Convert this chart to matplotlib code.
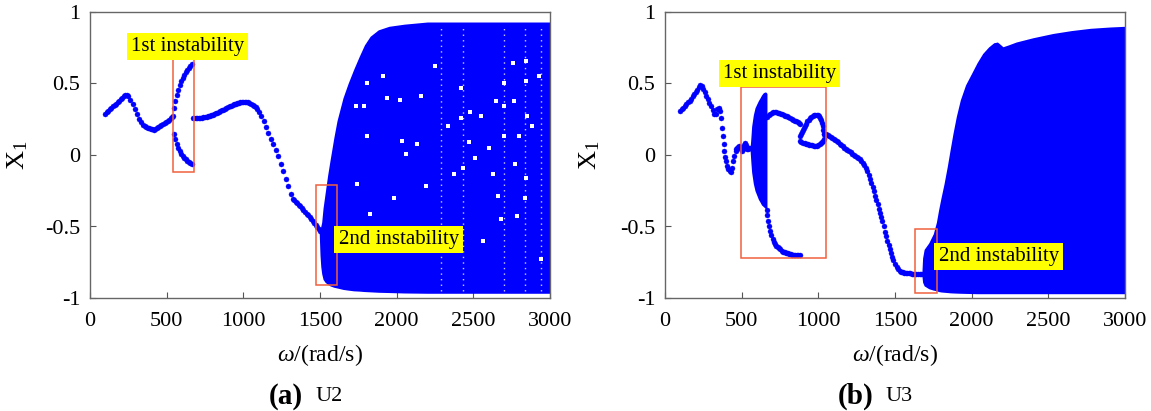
import matplotlib
matplotlib.use("Agg")
import matplotlib.pyplot as plt
from matplotlib.patches import Rectangle

plt.rcParams["font.family"] = ["Liberation Serif", "DejaVu Serif"]
plt.rcParams["mathtext.fontset"] = "custom"
plt.rcParams["mathtext.rm"] = "Liberation Serif"
plt.rcParams["mathtext.it"] = "Liberation Serif:italic"

BLUE = "#0000ff"
RED = "#f0603f"

# ---------------- (a) U2 ----------------
# periodic branch before the first instability
u2_w1 = [100, 110, 120, 130, 140, 150, 160, 170, 180, 190, 200, 210, 220, 230,
         240, 250, 264, 278, 292, 306, 320, 334, 346, 356, 366, 376, 386, 396,
         406, 416, 426, 436, 446, 456, 466, 476, 486, 496, 506, 516, 526, 536, 544]
u2_x1 = [0.29, 0.30, 0.31, 0.32, 0.33, 0.34, 0.35, 0.36, 0.37, 0.38, 0.39, 0.40,
         0.41, 0.418, 0.42, 0.41, 0.385, 0.355, 0.32, 0.285, 0.255, 0.23, 0.212,
         0.20, 0.195, 0.19, 0.186, 0.183, 0.18, 0.178, 0.18, 0.186, 0.193, 0.20,
         0.208, 0.216, 0.224, 0.232, 0.24, 0.248, 0.256, 0.264, 0.27]
# split branches inside the first instability
u2_wsplit = [545, 555, 565, 575, 585, 595, 605, 615, 625, 635, 645, 655, 665]
u2_upper = [0.33, 0.38, 0.42, 0.455, 0.49, 0.515, 0.54, 0.56, 0.58, 0.595, 0.61,
            0.625, 0.635]
u2_lower = [0.15, 0.11, 0.08, 0.05, 0.025, 0.005, -0.01, -0.02, -0.03, -0.04,
            -0.05, -0.055, -0.06]
# periodic branch up to the second instability
u2_w2 = [670, 680, 690, 700, 710, 720, 730, 740, 750, 760, 770, 780, 790, 800,
         810, 820, 830, 840, 850, 860, 870, 880, 890, 900, 910, 920, 930, 940,
         950, 960, 970, 980, 990, 1000, 1010, 1020, 1030, 1040, 1050, 1060, 1070,
         1080, 1090, 1100, 1116, 1132, 1148, 1164, 1180, 1196, 1212, 1228, 1244,
         1260, 1276, 1292, 1308, 1322, 1332, 1342, 1352, 1362, 1372, 1382, 1392,
         1402, 1412, 1422, 1432, 1442, 1452, 1462, 1472, 1482, 1492, 1502, 1512]
u2_x2 = [0.26, 0.26, 0.26, 0.26, 0.26, 0.261, 0.262, 0.263, 0.265, 0.267, 0.27,
         0.274, 0.278, 0.282, 0.287, 0.292, 0.297, 0.302, 0.307, 0.312, 0.318,
         0.324, 0.33, 0.335, 0.34, 0.345, 0.35, 0.354, 0.358, 0.362, 0.365, 0.368,
         0.37, 0.371, 0.372, 0.371, 0.369, 0.365, 0.36, 0.353, 0.345, 0.335, 0.32,
         0.30, 0.27, 0.235, 0.195, 0.155, 0.115, 0.075, 0.035, -0.01, -0.06, -0.11,
         -0.165, -0.22, -0.27, -0.305, -0.318, -0.328, -0.338, -0.348, -0.36,
         -0.372, -0.385, -0.398, -0.41, -0.423, -0.436, -0.449, -0.462, -0.476,
         -0.49, -0.505, -0.518, -0.53, -0.545]
# band of the non-periodic response
u2_wband = [1495, 1500, 1505, 1511, 1520, 1533, 1550, 1565, 1590, 1611, 1650,
            1683, 1720, 1756, 1790, 1827, 1880, 1950, 2050, 2200, 2500, 3000]
u2_band_hi = [-0.53, -0.52, -0.5, -0.47, -0.37, -0.27, -0.14, -0.04, 0.12, 0.24,
              0.40, 0.50, 0.60, 0.69, 0.77, 0.83, 0.875, 0.90, 0.915, 0.93, 0.93,
              0.93]
u2_band_lo = [-0.55, -0.7, -0.78, -0.83, -0.87, -0.89, -0.905, -0.915, -0.925,
              -0.93, -0.94, -0.945, -0.95, -0.952, -0.955, -0.957, -0.96, -0.962,
              -0.965, -0.967, -0.967, -0.967]
# gaps inside the band (frequencies and amplitudes never visited)
u2_gap_w = [1805, 1787, 1732, 1805, 1744, 1829, 1913, 1940, 2022, 2036, 2058,
            2131, 2160, 2191, 2336, 2372, 2420, 2420, 2433, 2481, 2470, 2510,
            2553, 2626, 2650, 2661, 2698, 2698, 2698, 2759, 2765, 2770, 2795,
            2843, 2843, 2848, 2843, 2838, 2783, 2680, 2928, 2940, 2600, 2300,
            2250, 1980, 2560, 2880]
u2_gap_x = [0.50, 0.343, 0.34, 0.13, -0.20, -0.41, 0.55, 0.40, 0.385, 0.10, 0.01,
            0.08, 0.41, -0.22, 0.20, -0.13, 0.47, 0.26, -0.09, 0.30, 0.09, -0.02,
            0.27, -0.13, 0.38, -0.29, 0.50, 0.34, 0.13, 0.64, 0.38, -0.06, 0.13,
            0.66, 0.52, 0.27, -0.16, -0.30, -0.43, -0.45, 0.55, -0.73, 0.05, -0.55,
            0.62, -0.30, -0.60, 0.20]
u2_stripe_w = [2290, 2430, 2700, 2840, 2940]

# ---------------- (b) U3 ----------------
u3_w1 = [100, 110, 120, 130, 140, 150, 160, 170, 180, 190, 200, 210, 220, 230,
         240, 250, 260, 270, 280, 290, 300, 310, 320, 330, 340, 350, 358, 364,
         370, 376, 382, 388, 394, 400, 407, 414, 421, 428, 436, 444, 452, 460,
         466, 472, 478, 484, 490, 496, 502, 508, 514, 520, 526, 532, 538, 544,
         550, 555]
u3_x1 = [0.31, 0.32, 0.33, 0.343, 0.355, 0.368, 0.38, 0.395, 0.41, 0.425, 0.44,
         0.457, 0.475, 0.49, 0.485, 0.465, 0.44, 0.415, 0.39, 0.365, 0.34, 0.315,
         0.29, 0.285, 0.32, 0.33, 0.31, 0.26, 0.19, 0.13, 0.075, 0.025, -0.015,
         -0.045, -0.075, -0.10, -0.113, -0.117, -0.09, -0.045, -0.005, 0.025, 0.04,
         0.05, 0.058, 0.06, 0.055, 0.04, 0.03, 0.045, 0.07, 0.085, 0.07, 0.05,
         0.045, 0.045, 0.048, 0.05]
# band inside the first instability
u3_wband1 = [555, 560, 565, 576, 587, 600, 609, 620, 630, 641, 650, 658, 665]
u3_band1_hi = [0.05, 0.12, 0.2, 0.28, 0.33, 0.36, 0.38, 0.40, 0.42, 0.435, 0.44,
               0.44, 0.43]
u3_band1_lo = [0.03, -0.05, -0.12, -0.2, -0.25, -0.285, -0.31, -0.33, -0.35,
               -0.36, -0.37, -0.375, -0.38]
# lower branch leaving the band
u3_wlow = [663, 668, 673, 678, 686, 694, 702, 710, 718, 726, 734, 742, 750, 760,
           770, 780, 790, 800, 810, 820, 830, 840, 850, 860, 870, 880]
u3_xlow = [-0.385, -0.42, -0.46, -0.495, -0.53, -0.56, -0.585, -0.605, -0.62,
           -0.635, -0.645, -0.653, -0.66, -0.668, -0.675, -0.68, -0.684, -0.688,
           -0.691, -0.694, -0.696, -0.698, -0.699, -0.70, -0.70, -0.70]
# upper branch leaving the band
u3_whigh = [665, 675, 685, 695, 705, 715, 725, 735, 745, 755, 765, 775, 785, 795,
            805, 815, 825, 835, 845, 855, 865, 875, 880]
u3_xhigh = [0.265, 0.28, 0.29, 0.297, 0.30, 0.30, 0.299, 0.297, 0.294, 0.29,
            0.286, 0.281, 0.276, 0.27, 0.265, 0.259, 0.253, 0.247, 0.241, 0.235,
            0.229, 0.223, 0.22]
# closed loop near 1000 rad/s
u3_wloop_lo = [880, 890, 900, 910, 920, 930, 940, 950, 960, 970, 980, 990, 1000,
               1010, 1020, 1026, 1030, 1034]
u3_xloop_lo = [0.095, 0.09, 0.085, 0.081, 0.078, 0.075, 0.072, 0.07, 0.068, 0.066,
               0.065, 0.066, 0.07, 0.076, 0.085, 0.093, 0.10, 0.115]
u3_wloop_hi = [880, 886, 893, 900, 907, 914, 921, 928, 936, 945, 954, 963, 972,
               981, 990, 998, 1006, 1013, 1020, 1025, 1029, 1032, 1035]
u3_xloop_hi = [0.13, 0.145, 0.16, 0.175, 0.19, 0.205, 0.22, 0.235, 0.248, 0.258,
               0.266, 0.272, 0.277, 0.28, 0.282, 0.28, 0.272, 0.26, 0.245, 0.225,
               0.2, 0.175, 0.15]
# periodic branch up to the second instability
u3_w2 = [1040, 1050, 1060, 1070, 1080, 1090, 1100, 1110, 1120, 1130, 1140, 1150,
         1160, 1170, 1180, 1190, 1200, 1210, 1220, 1230, 1240, 1250, 1260, 1270,
         1280, 1290, 1300, 1310, 1320, 1330, 1338, 1346, 1354, 1362, 1370, 1378,
         1386, 1394, 1402, 1410, 1418, 1426, 1434, 1442, 1450, 1458, 1466, 1474,
         1482, 1490, 1500, 1510, 1520, 1530, 1540, 1550, 1560, 1570, 1580, 1590,
         1600, 1610, 1620, 1630, 1640, 1650, 1660, 1670, 1680]
u3_x2 = [0.15, 0.145, 0.14, 0.133, 0.125, 0.12, 0.115, 0.108, 0.10, 0.09, 0.08,
         0.07, 0.06, 0.052, 0.045, 0.038, 0.03, 0.02, 0.01, 0.003, -0.005, -0.012,
         -0.02, -0.03, -0.04, -0.055, -0.07, -0.09, -0.11, -0.14, -0.165, -0.195,
         -0.225, -0.255, -0.285, -0.315, -0.345, -0.375, -0.405, -0.435, -0.465,
         -0.50, -0.535, -0.565, -0.60, -0.63, -0.658, -0.685, -0.71, -0.735,
         -0.762, -0.785, -0.80, -0.81, -0.817, -0.821, -0.824, -0.826, -0.827,
         -0.828, -0.828, -0.829, -0.829, -0.83, -0.83, -0.83, -0.83, -0.83, -0.83]
# band of the non-periodic response
u3_wband2 = [1675, 1680, 1690, 1720, 1750, 1770, 1785, 1800, 1820, 1841, 1860,
             1878, 1900, 1926, 1960, 1999, 2035, 2072, 2110, 2144, 2168, 2185,
             2204, 2240, 2290, 2400, 2531, 2650, 2775, 2900, 3000]
u3_band2_hi = [-0.83, -0.72, -0.66, -0.615, -0.55, -0.47, -0.38, -0.30, -0.20,
               -0.08, 0.04, 0.15, 0.27, 0.385, 0.49, 0.57, 0.645, 0.71, 0.755,
               0.785, 0.79, 0.775, 0.757, 0.77, 0.79, 0.82, 0.85, 0.87, 0.886,
               0.895, 0.90]
u3_band2_lo = [-0.84, -0.89, -0.915, -0.935, -0.945, -0.95, -0.955, -0.958,
               -0.96, -0.962, -0.964, -0.965, -0.966, -0.967, -0.968, -0.969,
               -0.97, -0.97, -0.97, -0.97, -0.97, -0.97, -0.97, -0.97, -0.97,
               -0.97, -0.97, -0.97, -0.97, -0.97, -0.97]

xticks = [0, 500, 1000, 1500, 2000, 2500, 3000]
yticks = [-1, -0.5, 0, 0.5, 1]
ytick_labels = ["-1", "-0.5", "0", "0.5", "1"]

W, H = 1151, 411
fig = plt.figure(figsize=(W / 100, H / 100), dpi=100)
ax_a = fig.add_axes([90 / W, 1 - 298 / H, 460 / W, 286 / H])
ax_b = fig.add_axes([665 / W, 1 - 298 / H, 460 / W, 286 / H])

dot = dict(ls="none", marker="o", ms=3.6, mfc=BLUE, mec=BLUE, mew=0.3, zorder=3)
lab = dict(fontsize=15, ha="center", va="center", color="black",
           bbox=dict(facecolor="#ffff00", edgecolor="none",
                     boxstyle="square,pad=0.2"), zorder=6)


def style(ax):
    ax.set_xlim(0, 3000)
    ax.set_ylim(-1, 1)
    ax.set_xticks(xticks)
    ax.set_xticklabels([str(t) for t in xticks])
    ax.set_yticks(yticks)
    ax.set_yticklabels(ytick_labels)
    ax.tick_params(direction="in", length=4, width=0.8, color="#555555",
                   labelsize=16, top=False, right=False)
    ax.tick_params(axis="x", pad=10)
    ax.tick_params(axis="y", pad=7)
    for s in ax.spines.values():
        s.set_color("#666666")
        s.set_linewidth(1.0)


def box(ax, w0, w1, x0, x1):
    ax.add_patch(Rectangle((w0, x0), w1 - w0, x1 - x0, fill=False,
                           edgecolor=RED, linewidth=1.1, zorder=5))


# panel (a)
ax_a.fill_between(u2_wband, u2_band_lo, u2_band_hi, color=BLUE, lw=0, zorder=2)
ax_a.vlines(u2_stripe_w, -0.95, 0.91, colors="white", linestyles=(0, (1, 3)),
            linewidth=1.0, alpha=0.8, zorder=2.5)
ax_a.plot(u2_gap_w, u2_gap_x, ls="none", marker="s", ms=2.6, mfc="white",
          mec="white", mew=0, zorder=2.6)
ax_a.plot(u2_w1, u2_x1, **dot)
ax_a.plot(u2_wsplit, u2_upper, **dot)
ax_a.plot(u2_wsplit, u2_lower, **dot)
ax_a.plot(u2_w2, u2_x2, **dot)
box(ax_a, 540, 680, -0.117, 0.67)
box(ax_a, 1474, 1613, -0.91, -0.21)
ax_a.text(636, 0.759, "1st instability", **lab)
ax_a.text(2013, -0.589, "2nd instability", **lab)
style(ax_a)

# panel (b)
ax_b.fill_between(u3_wband1, u3_band1_lo, u3_band1_hi, color=BLUE, lw=0, zorder=2)
ax_b.fill_between(u3_wband2, u3_band2_lo, u3_band2_hi, color=BLUE, lw=0, zorder=2)
ax_b.plot(u3_w1, u3_x1, **dot)
ax_b.plot(u3_wlow, u3_xlow, **dot)
ax_b.plot(u3_whigh, u3_xhigh, **dot)
ax_b.plot(u3_wloop_lo, u3_xloop_lo, **dot)
ax_b.plot(u3_wloop_hi, u3_xloop_hi, **dot)
ax_b.plot(u3_w2, u3_x2, **dot)
box(ax_b, 496, 1050, -0.718, 0.478)
box(ax_b, 1632, 1771, -0.963, -0.517)
ax_b.text(747, 0.57, "1st instability", **lab)
ax_b.text(2176, -0.710, "2nd instability", **lab)
style(ax_b)

# axis titles and panel captions
for cx in (320, 895):
    fig.text(cx / W, 1 - 355 / H, r"$\it{\omega}$/(rad/s)", fontsize=17,
             ha="center", va="center")
for lx in (18, 590):
    fig.text(lx / W, 1 - 155 / H, r"X$_1$", fontsize=19, rotation=90,
             ha="center", va="center")
fig.text(303 / W, 1 - 396 / H, "(a)", fontsize=21, fontweight="bold",
         ha="right", va="center")
fig.text(315 / W, 1 - 396 / H, "U2", fontsize=16, ha="left", va="center")
fig.text(873 / W, 1 - 396 / H, "(b)", fontsize=21, fontweight="bold",
         ha="right", va="center")
fig.text(885 / W, 1 - 396 / H, "U3", fontsize=16, ha="left", va="center")

fig.savefig("out.png", dpi=100)
